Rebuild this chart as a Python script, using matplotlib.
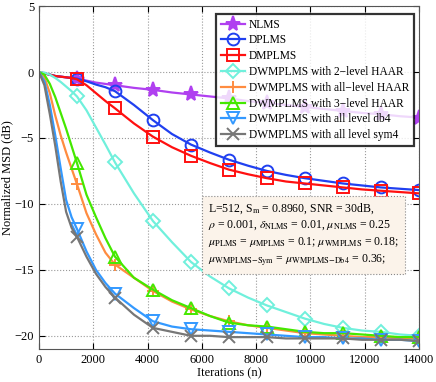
import numpy as np
import matplotlib.pyplot as plt

plt.rcParams['font.family'] = ['Liberation Serif', 'DejaVu Serif']
plt.rcParams['mathtext.fontset'] = 'stix'

iters = [0, 200, 400, 600, 800, 1000, 1200, 1400, 1750, 2100, 2450, 2800, 3500, 4200,
         4900, 5600, 6300, 7000, 7700, 8400, 9100, 9800, 10500, 11200, 11900, 12600,
         13300, 14000]
marker_iters = [1400, 2800, 4200, 5600, 7000, 8400, 9800, 11200, 12600, 14000]

nlms = [0, -0.1, -0.2, -0.3, -0.35, -0.4, -0.45, -0.5, -0.65, -0.8, -0.9, -1.0, -1.2,
        -1.35, -1.55, -1.7, -1.85, -2.0, -2.2, -2.35, -2.5, -2.65, -2.8, -2.95, -3.1,
        -3.2, -3.35, -3.45]
dplms = [0, -0.1, -0.2, -0.3, -0.35, -0.4, -0.45, -0.5, -0.7, -0.95, -1.15, -1.45, -2.5,
         -3.65, -4.7, -5.5, -6.1, -6.65, -7.1, -7.5, -7.8, -8.05, -8.25, -8.45, -8.6,
         -8.75, -8.85, -8.95]
dmplms = [0, -0.1, -0.2, -0.3, -0.35, -0.4, -0.45, -0.55, -1.0, -1.6, -2.2, -2.75, -3.9,
          -4.9, -5.7, -6.35, -6.9, -7.4, -7.75, -8.05, -8.3, -8.45, -8.6, -8.75, -8.9,
          -9.0, -9.1, -9.2]
haar2 = [0, -0.05, -0.2, -0.45, -0.75, -1.1, -1.45, -1.85, -2.9, -4.2, -5.5, -6.85, -9.2,
         -11.3, -12.9, -14.4, -15.5, -16.4, -17.1, -17.7, -18.2, -18.7, -19.1, -19.4,
         -19.6, -19.7, -19.9, -20.0]
haar_all = [0, -0.4, -1.6, -3.3, -4.8, -6.1, -7.3, -8.5, -10.7, -12.3, -13.7, -14.6,
            -15.6, -16.6, -17.4, -18.0, -18.5, -18.9, -19.2, -19.4, -19.6, -19.8, -19.9,
            -20.0, -20.1, -20.1, -20.2, -20.2]
haar3 = [0, -0.2, -0.9, -1.9, -3.1, -4.3, -5.6, -6.9, -9.3, -11.0, -12.6, -14.0, -15.6,
         -16.5, -17.3, -17.9, -18.5, -19.0, -19.2, -19.3, -19.5, -19.7, -19.8, -19.8,
         -19.9, -20.0, -20.1, -20.1]
db4 = [0, -0.7, -2.5, -4.8, -7.3, -9.7, -11.0, -11.9, -13.6, -15.0, -16.0, -16.8, -17.9,
       -18.9, -19.3, -19.5, -19.6, -19.7, -19.8, -19.9, -20.0, -20.1, -20.1, -20.2,
       -20.2, -20.3, -20.3, -20.4]
sym4 = [0, -1.0, -3.2, -5.6, -8.3, -10.6, -11.8, -12.5, -14.0, -15.3, -16.3, -17.1,
        -18.4, -19.4, -19.7, -20.0, -20.0, -20.1, -20.1, -20.1, -20.2, -20.2, -20.2,
        -20.2, -20.3, -20.3, -20.3, -20.4]

series = [
    ('NLMS', nlms, '#b040f0', '*', True),
    ('DPLMS', dplms, '#2040f0', 'o', False),
    ('DMPLMS', dmplms, '#ff1010', 's', False),
    ('DWMPLMS with 2\u2212level HAAR', haar2, '#70f0dc', 'D', False),
    ('DWMPLMS with all\u2212level HAAR', haar_all, '#ff8c40', '+', False),
    ('DWMPLMS with 3\u2212level HAAR', haar3, '#44e800', '^', False),
    ('DWMPLMS with all level db4', db4, '#3399ff', 'v', False),
    ('DWMPLMS with all level sym4', sym4, '#777777', 'x', False),
]

fig = plt.figure(figsize=(4.36, 3.82), dpi=100)
ax = fig.add_axes([0.0894, 0.0864, 0.8716, 0.8976])

mark_idx = [iters.index(m) for m in marker_iters]
for name, vals, col, mk, filled in series:
    size = 11 if mk == '*' else 8.5
    if mk == 'D':
        size = 7.5
    ax.plot(iters, vals, color=col, lw=1.6, marker=mk, markevery=mark_idx,
            markersize=size, markerfacecolor=col if filled else 'none',
            markeredgecolor=col, markeredgewidth=1.4, label=name)

ax.set_xlim(0, 14000)
ax.set_ylim(-21, 5)
ax.set_xticks(np.arange(0, 14001, 2000))
ax.set_yticks([-20, -15, -10, -5, 0, 5])
ax.tick_params(direction='in', labelsize=9, length=4, top=True, right=True)
ax.grid(True, linestyle=':', color='#999999', lw=0.8)
for sp in ax.spines.values():
    sp.set_color('#555555')
ax.set_xlabel('Iterations (n)', fontsize=9, labelpad=1)
ax.set_ylabel('Normalized MSD (dB)', fontsize=9, labelpad=1)

leg = ax.legend(loc='upper right', bbox_to_anchor=(0.986, 0.977), fontsize=8.3,
                frameon=True, fancybox=False, handlelength=2.1, borderpad=0.4,
                labelspacing=0.33, handletextpad=0.3, borderaxespad=0)
leg.get_frame().set_edgecolor('black')
leg.get_frame().set_linewidth(1.6)

info = ('L=512, S$_{\\rm m}$ = 0.8960, SNR = 30dB,\n'
        '$\\rho$ = 0.001, $\\delta_{\\rm NLMS}$ = 0.01, $\\mu_{\\rm NLMS}$ = 0.25\n'
        '$\\mu_{\\rm PLMS}$ = $\\mu_{\\rm MPLMS}$ = 0.1; $\\mu_{\\rm WMPLMS}$ = 0.18;\n'
        '$\\mu_{\\rm WMPLMS\\!-\\!Sym}$ = $\\mu_{\\rm WMPLMS\\!-\\!Db4}$ = 0.36;')
ax.text(0.445, 0.43, info, transform=ax.transAxes, fontsize=8.5, va='top', ha='left',
        linespacing=1.3,
        bbox=dict(boxstyle='square,pad=0.55', facecolor='#fbf3ea', edgecolor='#888888',
                  linestyle=':', lw=0.8))

fig.savefig('out.png', dpi=100)
